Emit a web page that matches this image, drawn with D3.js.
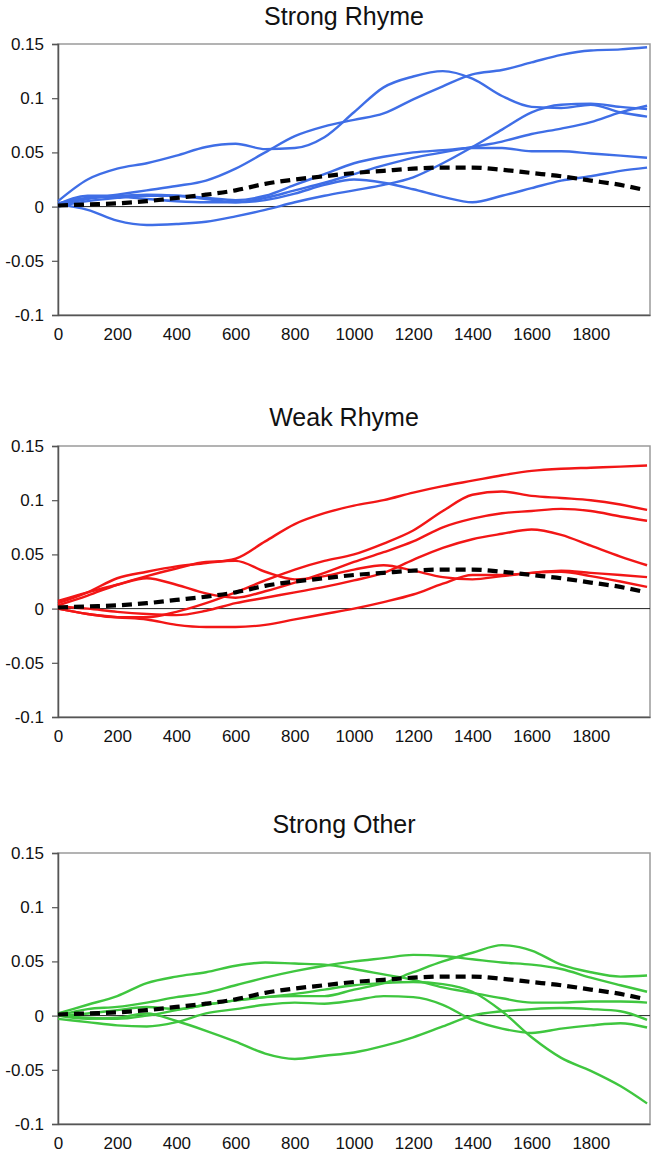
<!DOCTYPE html>
<html>
<head>
<meta charset="utf-8">
<script src="https://cdn.jsdelivr.net/npm/d3@7"></script>
<style>
  html, body { margin: 0; padding: 0; background: #ffffff; }
  svg { display: block; font-family: "Liberation Sans", Arial, Helvetica, sans-serif; }
</style>
</head>
<body>
<svg id="chart" width="658" height="1157"></svg>
<script>
// ---------- data ----------
const xValues = [0,100,200,300,400,500,600,700,800,900,1000,1100,1200,1300,1400,1500,1600,1700,1800,1900,1990];
const meanX   = [0,100,200,300,400,500,600,700,800,900,1000,1100,1200,1300,1400,1500,1600,1700,1800,1900,1970];
const meanValues = [0.001,0.002,0.003,0.005,0.008,0.011,0.015,0.021,0.025,0.028,0.031,0.033,0.035,0.036,0.036,0.034,0.031,0.028,0.024,0.020,0.016];

const xTicks = [0,200,400,600,800,1000,1200,1400,1600,1800];
const yTicks = [-0.1,-0.05,0,0.05,0.1,0.15];
const panelTitles = ["Strong Rhyme","Weak Rhyme","Strong Other"];

// Strong Rhyme (blue)
const blue1 = [0.002,0.007,0.011,0.015,0.019,0.024,0.035,0.050,0.065,0.074,0.080,0.086,0.099,0.111,0.122,0.126,0.133,0.140,0.144,0.145,0.147];
const blue2 = [0.005,0.025,0.035,0.040,0.047,0.055,0.058,0.053,0.054,0.064,0.087,0.110,0.120,0.125,0.118,0.102,0.092,0.091,0.094,0.087,0.083];
const blue3 = [0.002,-0.003,-0.013,-0.017,-0.016,-0.014,-0.009,-0.003,0.004,0.010,0.015,0.020,0.027,0.040,0.055,0.071,0.087,0.094,0.095,0.092,0.090];
const blue4 = [0.003,0.008,0.009,0.007,0.005,0.004,0.004,0.008,0.015,0.022,0.030,0.038,0.045,0.050,0.055,0.060,0.067,0.072,0.078,0.087,0.093];
const blue5 = [0.000,0.005,0.008,0.010,0.010,0.008,0.006,0.010,0.020,0.030,0.040,0.046,0.050,0.052,0.054,0.054,0.051,0.051,0.049,0.047,0.045];
const blue6 = [0.002,0.010,0.010,0.011,0.010,0.007,0.004,0.006,0.012,0.020,0.025,0.022,0.016,0.009,0.004,0.010,0.017,0.024,0.028,0.033,0.036];

// Weak Rhyme (red)
const red1 = [0.005,0.015,0.028,0.034,0.039,0.042,0.046,0.062,0.078,0.088,0.095,0.100,0.107,0.113,0.118,0.123,0.127,0.129,0.130,0.131,0.132];
const red2 = [0.003,0.012,0.022,0.030,0.037,0.043,0.044,0.034,0.027,0.030,0.036,0.040,0.035,0.029,0.027,0.030,0.033,0.035,0.033,0.031,0.029];
const red3 = [0.007,0.015,0.022,0.028,0.022,0.014,0.010,0.016,0.024,0.033,0.043,0.052,0.062,0.075,0.083,0.088,0.090,0.092,0.090,0.085,0.081];
const red4 = [0.000,-0.005,-0.008,-0.008,-0.003,0.005,0.015,0.026,0.036,0.044,0.050,0.060,0.072,0.090,0.105,0.108,0.104,0.102,0.100,0.096,0.091];
const red5 = [0.002,0.000,-0.003,-0.005,-0.006,-0.002,0.005,0.010,0.015,0.020,0.026,0.033,0.045,0.056,0.064,0.069,0.073,0.068,0.058,0.048,0.040];
const red6 = [0.000,-0.005,-0.008,-0.010,-0.015,-0.017,-0.017,-0.015,-0.010,-0.005,0.000,0.006,0.013,0.023,0.031,0.031,0.033,0.034,0.030,0.025,0.020];

// Strong Other (green)
const green1 = [0.000,-0.002,-0.003,0.000,0.005,0.010,0.014,0.017,0.018,0.018,0.024,0.030,0.040,0.050,0.058,0.065,0.060,0.047,0.040,0.036,0.037];
const green2 = [0.000,0.006,0.008,0.012,0.017,0.021,0.028,0.035,0.041,0.046,0.050,0.053,0.056,0.055,0.052,0.049,0.047,0.043,0.035,0.028,0.022];
const green3 = [0.002,0.010,0.018,0.030,0.036,0.040,0.046,0.049,0.048,0.047,0.043,0.038,0.033,0.026,0.021,0.016,0.012,0.012,0.013,0.013,0.012];
const green4 = [0.000,0.002,0.005,0.008,0.006,0.010,0.014,0.017,0.020,0.024,0.028,0.030,0.031,0.029,0.022,0.004,-0.020,-0.039,-0.051,-0.065,-0.081];
const green5 = [0.000,-0.003,-0.002,0.002,-0.005,-0.014,-0.024,-0.035,-0.040,-0.037,-0.034,-0.028,-0.020,-0.010,0.000,0.004,0.006,0.007,0.006,0.004,-0.004];
const green6 = [-0.003,-0.006,-0.009,-0.010,-0.006,0.002,0.006,0.010,0.012,0.011,0.014,0.018,0.017,0.010,-0.004,-0.012,-0.016,-0.012,-0.009,-0.007,-0.011];

const panelSeries = [
  [blue1, blue2, blue3, blue4, blue5, blue6],
  [red1, red2, red3, red4, red5, red6],
  [green1, green2, green3, green4, green5, green6]
];
const panelColors = ["#3f6ee6", "#f21616", "#3fc63f"];

// ---------- layout ----------
const plotLeft = 58, plotRight = 650, plotHeight = 271;
const panelTops = [44, 446, 853];
const titleBaselines = [25, 426, 833];
const titleX = 344;

const svg = d3.select("#chart");
const x = d3.scaleLinear().domain([0, 2000]).range([plotLeft, plotRight]);

const fmt = d => d === 0 ? "0" : String(d);

panelTitles.forEach((title, i) => {
  const top = panelTops[i];
  const y = d3.scaleLinear().domain([-0.1, 0.15]).range([top + plotHeight, top]);
  const g = svg.append("g");

  // title
  g.append("text")
    .attr("x", titleX).attr("y", titleBaselines[i])
    .attr("text-anchor", "middle")
    .attr("font-size", 25).attr("fill", "#111")
    .text(title);

  // frame (top & right lighter)
  g.append("rect")
    .attr("x", plotLeft).attr("y", top)
    .attr("width", plotRight - plotLeft).attr("height", plotHeight)
    .attr("fill", "none").attr("stroke", "#9a9a9a").attr("stroke-width", 1.5);

  // zero line
  g.append("line")
    .attr("x1", plotLeft).attr("x2", plotRight)
    .attr("y1", y(0)).attr("y2", y(0))
    .attr("stroke", "#222").attr("stroke-width", 1);

  // y axis
  const yAxis = g.append("g")
    .attr("transform", `translate(${plotLeft},0)`)
    .call(d3.axisLeft(y).tickValues(yTicks).tickFormat(fmt).tickSize(6).tickPadding(8));
  yAxis.select(".domain").attr("stroke", "#555").attr("stroke-width", 1.5);
  yAxis.selectAll(".tick line").attr("stroke", "#555").attr("stroke-width", 1.2);
  yAxis.selectAll("text").attr("font-size", 17).attr("fill", "#111")
    .attr("font-family", "\"Liberation Sans\", Arial, sans-serif");

  // x axis
  const xAxis = g.append("g")
    .attr("transform", `translate(0,${top + plotHeight})`)
    .call(d3.axisBottom(x).tickValues(xTicks).tickFormat(d3.format("d")).tickSize(0).tickPadding(13));
  xAxis.select(".domain").attr("stroke", "#555").attr("stroke-width", 1.5);
  xAxis.selectAll("text").attr("font-size", 17).attr("fill", "#111")
    .attr("font-family", "\"Liberation Sans\", Arial, sans-serif");

  // series
  const line = d3.line()
    .x((d, k) => x(xValues[k]))
    .y(d => y(d))
    .curve(d3.curveMonotoneX);

  panelSeries[i].forEach(vals => {
    g.append("path")
      .datum(vals)
      .attr("d", line)
      .attr("fill", "none")
      .attr("stroke", panelColors[i])
      .attr("stroke-width", 2.4)
      .attr("stroke-linejoin", "round");
  });

  // mean dashed curve
  const meanLine = d3.line()
    .x((d, k) => x(meanX[k]))
    .y(d => y(d))
    .curve(d3.curveMonotoneX);
  g.append("path")
    .datum(meanValues)
    .attr("d", meanLine)
    .attr("fill", "none")
    .attr("stroke", "#000")
    .attr("stroke-width", 4.2)
    .attr("stroke-dasharray", "10,6");
});
</script>
</body>
</html>
